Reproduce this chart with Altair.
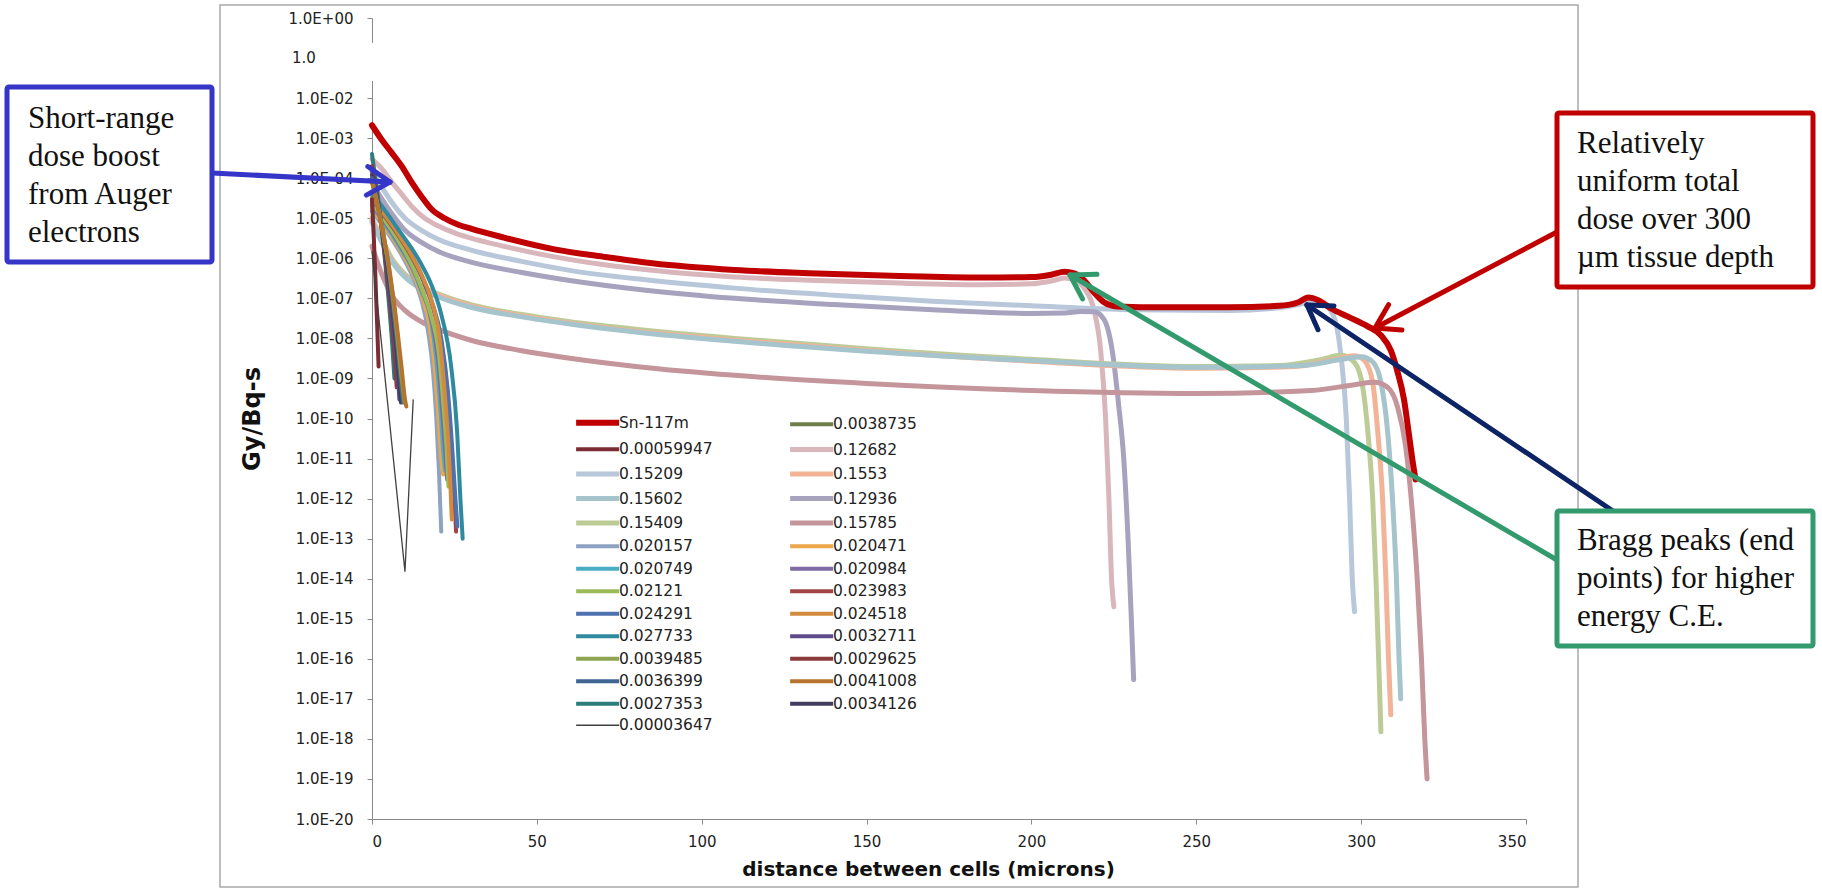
import math
import altair as alt
import pandas as pd

# ---------------- data ----------------
# legend order (column by column, as in the reference legend)
SERIES = [
    "Sn-117m", "0.00059947", "0.15209", "0.15602", "0.15409", "0.020157", "0.020749",
    "0.02121", "0.024291", "0.027733", "0.0039485", "0.0036399", "0.0027353", "0.00003647",
    "0.0038735", "0.12682", "0.1553", "0.12936", "0.15785", "0.020471", "0.020984",
    "0.023983", "0.024518", "0.0032711", "0.0029625", "0.0041008", "0.0034126",
]
COLORS = [
    "#C00000", "#7B2C34", "#B9C7DA", "#A5C4CC", "#BDCC97", "#8EA3C2", "#4BACC6",
    "#9BBB59", "#4E72B0", "#2F8AA0", "#8EA452", "#3F6592", "#2E7D7D", "#404040",
    "#6F7F47", "#D9B6BB", "#F2B396", "#A7A3BE", "#C4959B", "#EDA64A", "#7F6AA4",
    "#A14444", "#D48A3E", "#5E4B8C", "#8B3A3A", "#B4742F", "#403D5E",
]
WIDTHS = [6, 4, 5, 5, 5, 4, 4, 4, 4, 4, 4, 4, 4, 1.3,
          4, 5, 5, 5, 5, 4, 4, 4, 4, 4, 4, 4, 4]

X_SN = [0, 3, 6, 9, 12, 15, 18, 22, 26, 30, 40, 55, 70, 85, 110, 135, 160, 185, 200, 206, 210, 213,
        216, 219, 222, 226, 240, 260, 275, 281, 284, 287, 291, 296, 302, 306, 309, 311, 313, 314.5,
        315.5, 316.5]
Y_SN = [2.1e-3, 9e-4, 4.3e-4, 2e-4, 8e-5, 3.5e-5, 1.7e-5, 1e-5, 7e-6, 5.5e-6, 3.3e-6, 1.7e-6, 1.1e-6,
        7.5e-7, 5.1e-7, 4.2e-7, 3.6e-7, 3.3e-7, 3.4e-7, 3.9e-7, 4.6e-7, 4.2e-7, 2.8e-7, 1.4e-7, 8e-8,
        6.3e-8, 6e-8, 6e-8, 6.5e-8, 8e-8, 1.05e-7, 9e-8, 5.5e-8, 3.5e-8, 2e-8, 1.2e-8, 5e-9, 1.5e-9,
        3e-10, 4e-11, 1e-11, 3e-12]

X_12682 = [0, 3, 6, 9, 12, 16, 20, 25, 30, 40, 55, 70, 85, 110, 135, 160, 185, 200, 206, 210, 213,
           216, 219, 221, 222.5, 223.5, 224.3, 225]
Y_12682 = [3e-4, 1.7e-4, 8e-5, 4e-5, 2e-5, 1e-5, 6.5e-6, 4.3e-6, 3.2e-6, 2e-6, 1.1e-6, 7e-7, 5e-7,
           3.4e-7, 2.8e-7, 2.4e-7, 2.2e-7, 2.3e-7, 2.7e-7, 3.2e-7, 2.9e-7, 1.8e-7, 5e-8, 5e-9, 1e-10,
           1e-12, 1e-14, 2e-15]

X_15209 = [0, 3, 6, 10, 15, 20, 30, 45, 60, 83, 110, 140, 170, 200, 230, 260, 275, 281, 285, 289,
           292, 294, 295.5, 296.5, 297.3, 298]
Y_15209 = [1.5e-4, 6e-5, 2.5e-5, 1e-5, 5e-6, 3e-6, 1.6e-6, 8.5e-7, 5e-7, 2.9e-7, 1.8e-7, 1.2e-7,
           8.5e-8, 6.5e-8, 5.2e-8, 5e-8, 5.8e-8, 7e-8, 8.5e-8, 7e-8, 3e-8, 3e-9, 1e-10, 1e-12, 1e-14,
           1.5e-15]

X_12936 = [0, 3, 6, 10, 15, 20, 30, 45, 60, 83, 110, 140, 170, 200, 210, 215, 219, 222, 224.5, 226.5,
           228, 229.3, 230.3, 231]
Y_12936 = [8e-5, 3e-5, 1.3e-5, 5e-6, 2.5e-6, 1.5e-6, 8e-7, 4.5e-7, 2.8e-7, 1.6e-7, 1e-7, 7e-8, 5.2e-8,
           4.2e-8, 4.3e-8, 4.7e-8, 4.6e-8, 3e-8, 5e-9, 2e-10, 1e-11, 1e-13, 1e-15, 3e-17]

X_15409 = [0, 3, 6, 10, 15, 20, 30, 45, 60, 80, 110, 150, 200, 250, 275, 288, 294, 298, 300.5, 302,
           303.5, 304.5, 305.3, 306]
Y_15409 = [1e-5, 3e-6, 1e-6, 4e-7, 2e-7, 1.3e-7, 7e-8, 4e-8, 2.6e-8, 1.7e-8, 1e-8, 5.5e-9, 3e-9, 2e-9,
           2.1e-9, 3e-9, 3.8e-9, 2.5e-9, 6e-10, 5e-11, 1e-12, 1e-14, 1e-16, 1.5e-18]

X_1553 = [0, 3, 6, 10, 15, 20, 30, 45, 60, 80, 110, 150, 200, 250, 280, 292, 298, 301, 303.5, 305,
          306.5, 307.5, 308.3, 309]
Y_1553 = [9e-6, 2.7e-6, 9e-7, 3.6e-7, 1.8e-7, 1.2e-7, 6.5e-8, 3.7e-8, 2.4e-8, 1.5e-8, 9e-9, 5e-9,
          2.7e-9, 1.8e-9, 2e-9, 3e-9, 3.7e-9, 2.8e-9, 8e-10, 5e-11, 1e-12, 1e-14, 1e-16, 4e-18]

X_15602 = [0, 3, 6, 10, 15, 20, 30, 45, 60, 80, 110, 150, 200, 250, 282, 294, 300, 303.5, 306, 308,
           309.5, 310.7, 311.5, 312]
Y_15602 = [8e-6, 2.5e-6, 8.5e-7, 3.4e-7, 1.7e-7, 1.1e-7, 6e-8, 3.5e-8, 2.3e-8, 1.45e-8, 8.5e-9, 4.8e-9,
           2.8e-9, 1.9e-9, 2.1e-9, 3e-9, 3.5e-9, 2.6e-9, 8e-10, 5e-11, 1e-12, 1e-14, 1e-16, 1e-17]

X_15785 = [0, 3, 6, 10, 15, 20, 30, 45, 60, 80, 110, 150, 200, 250, 285, 298, 304, 308, 311, 313.5,
           315.5, 317, 318.3, 319.3, 320]
Y_15785 = [2e-6, 4e-7, 1.2e-7, 5e-8, 2.6e-8, 1.7e-8, 9e-9, 5e-9, 3.2e-9, 2e-9, 1.2e-9, 7.5e-10, 5e-10,
           4.2e-10, 5e-10, 7e-10, 8e-10, 6e-10, 2e-10, 2e-11, 5e-13, 1e-14, 1e-16, 1e-18, 1e-19]

X_020157 = [0, 3, 6, 9, 12, 15, 17, 18.5, 19.5, 20.3, 21]
Y_020157 = [1.5e-5, 7e-6, 3e-6, 1.2e-6, 4e-7, 9e-8, 1.5e-8, 1.5e-9, 1e-10, 5e-12, 1.5e-13]
X_020471 = [0, 3, 6, 9, 12, 15, 17.5, 19, 20.2, 21, 21.6]
Y_020471 = [1.8e-5, 8e-6, 3.5e-6, 1.4e-6, 5e-7, 1.2e-7, 2e-8, 2e-9, 1e-10, 1e-11, 4e-12]
X_020749 = [0, 3, 6, 9, 12, 15, 18, 19.5, 20.8, 21.6, 22.2]
Y_020749 = [2e-5, 9e-6, 4e-6, 1.6e-6, 6e-7, 1.5e-7, 2.5e-8, 3e-9, 1.5e-10, 1.5e-11, 5e-12]
X_020984 = [0, 3, 6, 9, 12, 15, 18, 20, 21.3, 22.2, 22.8]
Y_020984 = [2.2e-5, 1e-5, 4.5e-6, 1.8e-6, 6.5e-7, 1.7e-7, 3e-8, 3e-9, 1.5e-10, 1.5e-11, 3e-12]
X_02121 = [0, 3, 6, 9, 12, 15, 18, 20.3, 21.7, 22.6, 23.2]
Y_02121 = [2.4e-5, 1.1e-5, 5e-6, 2e-6, 7e-7, 1.8e-7, 3.5e-8, 4e-9, 2e-10, 2e-11, 2e-12]
X_023983 = [0, 3, 6, 9, 12, 15, 18, 21, 22.8, 24, 25, 25.5]
Y_023983 = [3e-5, 1.4e-5, 6.5e-6, 2.8e-6, 1.1e-6, 3.5e-7, 8e-8, 8e-9, 5e-10, 2e-11, 1e-12, 1.5e-13]
X_024291 = [0, 3, 6, 9, 12, 15, 18, 21, 23, 24.3, 25.3, 25.9]
Y_024291 = [3.2e-5, 1.5e-5, 7e-6, 3e-6, 1.2e-6, 3.8e-7, 9e-8, 1e-8, 5e-10, 2e-11, 1e-12, 2e-13]
X_024518 = [0, 3, 6, 9, 12, 15, 18, 20.5, 22, 23.2, 23.8, 24.2]
Y_024518 = [3.3e-5, 1.5e-5, 7e-6, 3e-6, 1.2e-6, 4e-7, 9e-8, 1e-8, 5e-10, 2e-11, 2e-12, 3e-13]
X_027733 = [0, 3, 6, 9, 12, 15, 18, 21, 24, 25.8, 26.8, 27.5]
Y_027733 = [4e-5, 2e-5, 9e-6, 4e-6, 1.8e-6, 7e-7, 2.2e-7, 4e-8, 2e-9, 5e-11, 1e-12, 1e-13]

X_0027353 = [0, 1, 2, 3, 4, 5, 6, 6.8]
Y_0027353 = [4e-4, 1e-4, 2.5e-5, 5e-6, 8e-7, 1e-7, 1e-8, 1e-9]
X_0029625 = [0, 1, 2, 3, 4, 5, 6, 7, 7.5]
Y_0029625 = [2e-4, 7e-5, 2e-5, 5e-6, 1e-6, 1.7e-7, 2.5e-8, 2.5e-9, 6e-10]
X_0032711 = [0, 1, 2, 3, 4, 5, 6, 7, 8, 8.3]
Y_0032711 = [1.5e-4, 6e-5, 2e-5, 6e-6, 1.5e-6, 3e-7, 5e-8, 7e-9, 8e-10, 3e-10]
X_0034126 = [0, 1, 2, 3, 4, 5, 6, 7, 8, 8.8]
Y_0034126 = [1.2e-4, 5e-5, 1.8e-5, 6e-6, 1.7e-6, 4e-7, 8e-8, 1.2e-8, 1.5e-9, 2.5e-10]
X_0036399 = [0, 1, 2, 3, 4, 5, 6, 7, 8, 9, 9.4]
Y_0036399 = [1e-4, 4.5e-5, 1.8e-5, 6.5e-6, 2e-6, 5.5e-7, 1.2e-7, 2.2e-8, 3.5e-9, 5e-10, 2.5e-10]
X_0038735 = [0, 1, 2, 3, 4, 5, 6, 7, 8, 9, 9.8]
Y_0038735 = [9e-5, 4e-5, 1.7e-5, 6.5e-6, 2.2e-6, 6.5e-7, 1.6e-7, 3.5e-8, 6e-9, 9e-10, 2.5e-10]
X_0039485 = [0, 1, 2, 3, 4, 5, 6, 7, 8, 9, 10]
Y_0039485 = [8.5e-5, 3.8e-5, 1.6e-5, 6.2e-6, 2.2e-6, 7e-7, 1.8e-7, 4e-8, 7e-9, 1.1e-9, 2.5e-10]
X_0041008 = [0, 1, 2, 3, 4, 5, 6, 7, 8, 9, 10, 10.4]
Y_0041008 = [8e-5, 3.6e-5, 1.5e-5, 6e-6, 2.2e-6, 7.5e-7, 2e-7, 5e-8, 1e-8, 1.8e-9, 3e-10, 2e-10]
X_00059947 = [0, 0.5, 1, 1.5, 2]
Y_00059947 = [3e-5, 4e-6, 4e-7, 3e-8, 2e-9]
X_00003647 = [0, 10, 12.5]
Y_00003647 = [1.5e-6, 1.5e-14, 3e-10]

XY = {
    "Sn-117m": (X_SN, Y_SN), "0.12682": (X_12682, Y_12682), "0.15209": (X_15209, Y_15209),
    "0.12936": (X_12936, Y_12936), "0.15409": (X_15409, Y_15409), "0.1553": (X_1553, Y_1553),
    "0.15602": (X_15602, Y_15602), "0.15785": (X_15785, Y_15785),
    "0.020157": (X_020157, Y_020157), "0.020471": (X_020471, Y_020471),
    "0.020749": (X_020749, Y_020749), "0.020984": (X_020984, Y_020984),
    "0.02121": (X_02121, Y_02121), "0.023983": (X_023983, Y_023983),
    "0.024291": (X_024291, Y_024291), "0.024518": (X_024518, Y_024518),
    "0.027733": (X_027733, Y_027733), "0.0027353": (X_0027353, Y_0027353),
    "0.0029625": (X_0029625, Y_0029625), "0.0032711": (X_0032711, Y_0032711),
    "0.0034126": (X_0034126, Y_0034126), "0.0036399": (X_0036399, Y_0036399),
    "0.0038735": (X_0038735, Y_0038735), "0.0039485": (X_0039485, Y_0039485),
    "0.0041008": (X_0041008, Y_0041008), "0.00059947": (X_00059947, Y_00059947),
    "0.00003647": (X_00003647, Y_00003647),
}
YTICKS = [10.0 ** -k for k in range(21)]
XTICKS = [0, 50, 100, 150, 200, 250, 300, 350]

rows = []
for name, (xs, ys) in XY.items():
    for x, y in zip(xs, ys):
        rows.append({"series": name, "x": x, "y": y})
df = pd.DataFrame(rows)

# ---------------- layout (pixels relative to plot origin) ----------------
W, H = 1154, 801
SERIF = "Liberation Serif"
SANS = "DejaVu Sans"

xenc = alt.X("x:Q", scale=alt.Scale(domain=[0, 350], nice=False),
             axis=alt.Axis(values=XTICKS, title="distance between cells (microns)", grid=False,
                           tickSize=5, labelPadding=10, domainColor="#8a8a8a", tickColor="#8a8a8a",
                           labelFont=SANS, labelFontSize=15, labelColor="#222222",
                           titleFont=SANS, titleFontSize=20, titleFontWeight="bold",
                           titleColor="#111111", titlePadding=10, titleX=556))
label_expr = ("round(log(datum.value)/LN10) == 0 ? '1.0E+00' : "
              "(round(log(datum.value)/LN10) == -1 ? '' : "
              "'1.0E-' + (round(-log(datum.value)/LN10) < 10 ? '0' : '') + round(-log(datum.value)/LN10))")
yenc = alt.Y("y:Q", scale=alt.Scale(type="log", domain=[1e-20, 1], nice=False),
             axis=alt.Axis(values=YTICKS, labelExpr=label_expr, title="Gy/Bq-s", grid=False,
                           tickSize=5, labelPadding=14, domainColor="#8a8a8a", tickColor="#8a8a8a",
                           labelFont=SANS, labelFontSize=15, labelColor="#222222",
                           titleFont=SANS, titleFontSize=24, titleFontWeight="bold",
                           titleColor="#111111", titlePadding=24))

# legend swatch: a 43px horizontal stroke starting at the entry's left edge
legend = alt.Legend(title=None, orient="none", legendX=201, legendY=396, columns=2,
                    columnPadding=67, rowPadding=4.5, symbolType="M-1,0H7", symbolSize=115.6,
                    labelFont=SANS, labelFontSize=15.5, labelColor="#222222", labelOffset=29,
                    labelLimit=300, padding=0)
color = alt.Color("series:N", scale=alt.Scale(domain=SERIES, range=COLORS), legend=legend)
swidth = alt.StrokeWidth("series:N", scale=alt.Scale(type="ordinal", domain=SERIES, range=WIDTHS),
                         legend=legend)

base = alt.Chart(df)
others = base.transform_filter(
    "datum.series != 'Sn-117m' && datum.series != '0.00003647'"
).mark_line(interpolate="monotone", strokeCap="round", strokeJoin="round").encode(
    x=xenc, y=yenc, color=color, strokeWidth=swidth, detail="series:N")
thin = base.transform_filter("datum.series == '0.00003647'").mark_line(
    interpolate="linear").encode(x=xenc, y=yenc, color=color, strokeWidth=swidth)
total = base.transform_filter("datum.series == 'Sn-117m'").mark_line(
    interpolate="monotone", strokeCap="round", strokeJoin="round").encode(
    x=xenc, y=yenc, color=color, strokeWidth=swidth)

one = pd.DataFrame({"k": [0]})
frame = alt.Chart(one).mark_rect(fillOpacity=0, stroke="#a9a9a9", strokeWidth=1.5).encode(
    x=alt.value(-152), x2=alt.value(1206), y=alt.value(-13), y2=alt.value(869))
patch = alt.Chart(one).mark_rect(color="white").encode(
    x=alt.value(-8), x2=alt.value(2), y=alt.value(25), y2=alt.value(63))
patch_label = alt.Chart(one).mark_text(align="left", baseline="middle", font=SANS, fontSize=15,
                                       color="#222222").encode(
    x=alt.value(-80), y=alt.value(40), text=alt.value("1.0"))


def arrow(tail, tip, head=27, ang=32):
    dx, dy = tip[0] - tail[0], tip[1] - tail[1]
    th = math.atan2(dy, dx)
    segs = [(tail[0], tail[1], tip[0], tip[1])]
    for s in (1, -1):
        a = th + s * math.radians(ang)
        segs.append((tip[0], tip[1], tip[0] - head * math.cos(a), tip[1] - head * math.sin(a)))
    return pd.DataFrame(segs, columns=["a", "b", "c", "d"])


def arrow_layer(tail, tip, col):
    return alt.Chart(arrow(tail, tip)).mark_rule(color=col, strokeWidth=5, strokeCap="round").encode(
        x=alt.X("a:Q", scale=None), y=alt.Y("b:Q", scale=None),
        x2=alt.X2("c:Q"), y2=alt.Y2("d:Q"))


def box(x1, y1, x2, y2, col):
    return alt.Chart(one).mark_rect(fill="white", stroke=col, strokeWidth=5, cornerRadius=2).encode(
        x=alt.value(x1), x2=alt.value(x2), y=alt.value(y1), y2=alt.value(y2))


def note(x, y, lines):
    return alt.Chart(one).mark_text(align="left", baseline="alphabetic", font=SERIF, fontSize=31,
                                    lineHeight=38, color="#111111").encode(
        x=alt.value(x), y=alt.value(y), text=alt.value(lines))


BLUE, RED, GREEN, NAVY = "#3535C8", "#C00000", "#339A6E", "#0C2466"

annots = [
    arrow_layer((-160, 155), (18, 164), BLUE),
    arrow_layer((1185, 214), (1003, 310), RED),
    arrow_layer((1185, 542), (698, 257), GREEN),
    arrow_layer((1241, 493), (935, 287), NAVY),
    box(-365, 69, -160, 244, BLUE),
    box(1185, 95, 1441, 269, RED),
    box(1185, 493, 1441, 628, GREEN),
    note(-344, 110, ["Short-range", "dose boost", "from Auger", "electrons"]),
    note(1205, 135, ["Relatively", "uniform total", "dose over 300", "\u00b5m tissue depth"]),
    note(1205, 532, ["Bragg peaks (end", "points) for higher", "energy C.E."]),
]

chart = alt.layer(frame, others, thin, total, patch, patch_label, *annots).properties(
    width=W, height=H,
    autosize=alt.AutoSizeParams(type="none"),
    padding={"left": 372, "top": 18, "right": 296, "bottom": 76},
    background="white",
).configure_view(strokeWidth=0)

chart.save("out.html", embed_options={"renderer": "svg", "actions": False})
